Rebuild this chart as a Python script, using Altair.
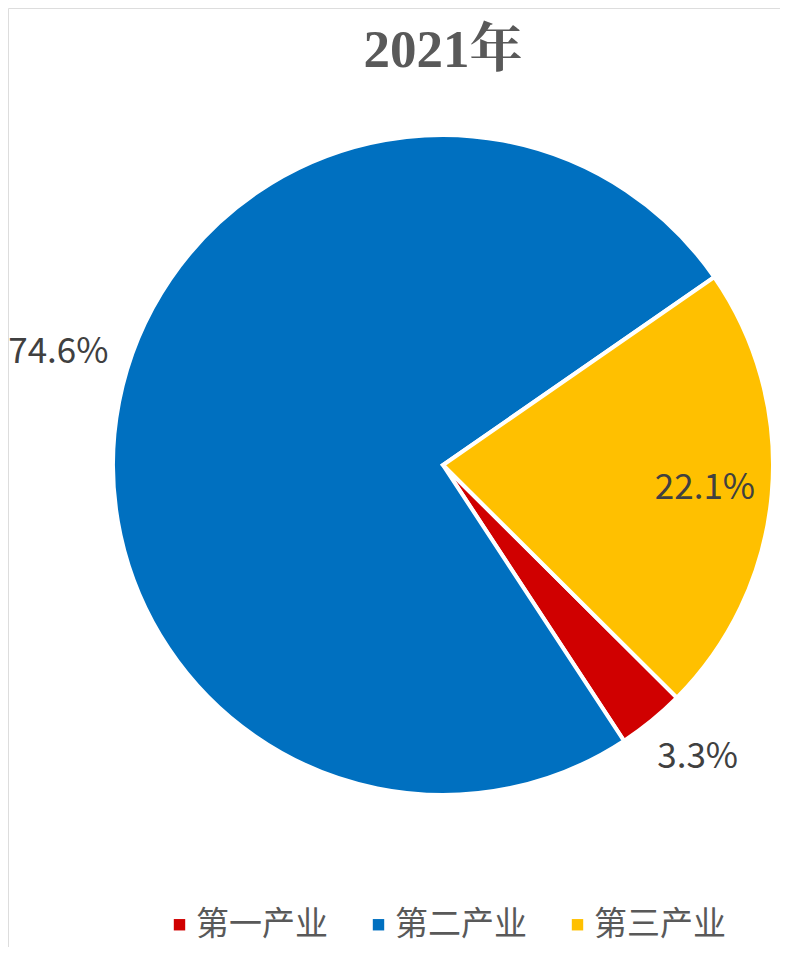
import math
import altair as alt
import pandas as pd

categories = ["第一产业", "第二产业", "第三产业"]
shares = [3.3, 74.6, 22.1]
labels = ["3.3%", "74.6%", "22.1%"]
colors = ["#D00000", "#0070C0", "#FFC000"]
draw_order = [1, 2, 0]
title_text = "2021年"

df = pd.DataFrame({"category": categories, "share": shares, "label": labels, "order": draw_order})

W, H = 772, 939
CX, CY = 435, 457
R = 330
start = 0.965

theta_scale = alt.Scale(domain=[0, 100], range=[start, start + 2 * math.pi], nice=False)

pie = alt.Chart(df).mark_arc(outerRadius=R, stroke="white", strokeWidth=4).encode(
    theta=alt.Theta("share:Q", stack=True, scale=theta_scale),
    order=alt.Order("order:Q"),
    x=alt.value(CX),
    y=alt.value(CY),
    color=alt.Color(
        "category:N",
        scale=alt.Scale(domain=categories, range=colors),
        legend=alt.Legend(
            title=None, orient="none", legendX=155, legendY=900, direction="horizontal",
            symbolType="square", symbolSize=130, symbolStrokeWidth=0,
            labelFontSize=33, labelFont="Noto Sans CJK SC", labelColor="#595959",
            labelOffset=0, columnPadding=34, labelLimit=300,
        ),
    ),
)

label_base = alt.Chart(df).transform_window(
    cum="sum(share)", sort=[alt.SortField("order")]
).transform_calculate(
    mid="datum.cum - datum.share / 2"
)

def label_layer(cat, radius, dx, dy):
    return label_base.transform_filter(alt.datum.category == cat).mark_text(
        radius=radius, dx=dx, dy=dy, fontSize=35, font="Noto Sans CJK SC",
        color="#404040", baseline="middle", align="center",
    ).encode(
        theta=alt.Theta("mid:Q", stack=None, scale=theta_scale),
        x=alt.value(CX),
        y=alt.value(CY),
        text="label:N",
    )

lab1 = label_layer("第一产业", 387, 10, -8)
lab2 = label_layer("第二产业", 399, 7, -37)
lab3 = label_layer("第三产业", 263, 0, 0)

title_df = pd.DataFrame({"t": [title_text]})
title = alt.Chart(title_df).mark_text(
    fontSize=53, fontWeight="bold", font="Liberation Serif, Noto Serif CJK SC, Noto Sans CJK SC",
    color="#595959", baseline="middle", align="center",
).encode(text="t:N", x=alt.value(CX), y=alt.value(43))

chart = alt.layer(pie, lab1, lab2, lab3, title).properties(
    width=W, height=H, padding=0, autosize=alt.AutoSizeParams(type="none"),
).configure_view(strokeOpacity=0, strokeWidth=0).configure(background="white")

chart.save("out.html", embed_options={"renderer": "svg", "actions": False})
